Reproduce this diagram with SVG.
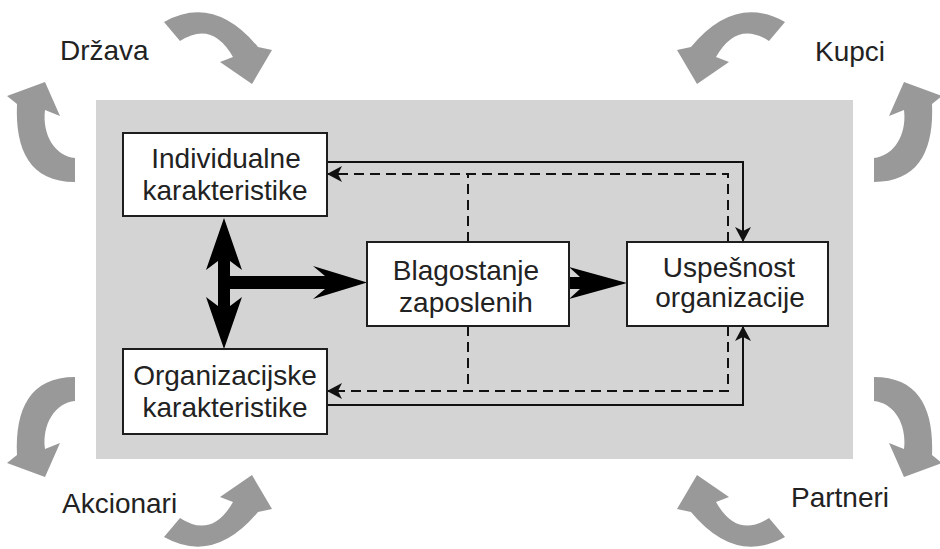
<svg xmlns="http://www.w3.org/2000/svg" width="940" height="549" viewBox="0 0 940 549">
<defs>
<style>
.bg{fill:#d4d4d4}
.box{fill:#ffffff;stroke:#1e1e1e;stroke-width:2}
.t{font-family:"Liberation Sans",Arial,sans-serif;font-size:28px;fill:#222222;text-anchor:middle}
.lbl{font-family:"Liberation Sans",Arial,sans-serif;font-size:28px;fill:#222222}
.curl{fill:#999999}
.solid{fill:none;stroke:#111111;stroke-width:2}
.dash{fill:none;stroke:#111111;stroke-width:2;stroke-dasharray:10 6}
.thick{fill:#000000}
</style>
<marker id="ah" markerUnits="userSpaceOnUse" markerWidth="15" markerHeight="16" viewBox="0 0 15 16" refX="15" refY="8" orient="auto">
<path d="M0,0 L15,8 L0,16 L4,8 Z" fill="#111111"/>
</marker>
<path id="curlTop" d="M164,22 Q214,-6 258,47 L272,50 L252,84 L220,62 L233,57 Q212,20 180,41 Z"/>
<path id="curlSide" d="M75,182 C30,182 15,150 17,104 L7,96 L45,82 L60,116 L45,110 C42,135 55,156 75,158 Z"/>
</defs>

<rect class="bg" x="96" y="100" width="757" height="359"/>

<g id="drzava">
<use href="#curlTop" class="curl"/>
<use href="#curlSide" class="curl"/>
<text class="lbl" x="60" y="60">Država</text>
</g>
<g id="kupci">
<g transform="translate(949,0) scale(-1,1)">
<use href="#curlTop" class="curl"/>
<use href="#curlSide" class="curl"/>
</g>
<text class="lbl" x="815" y="61">Kupci</text>
</g>
<g id="akcionari">
<g transform="translate(0,559) scale(1,-1)">
<use href="#curlTop" class="curl"/>
<use href="#curlSide" class="curl"/>
</g>
<text class="lbl" x="62" y="513">Akcionari</text>
</g>
<g id="partneri">
<g transform="translate(949,559) scale(-1,-1)">
<use href="#curlTop" class="curl"/>
<use href="#curlSide" class="curl"/>
</g>
<text class="lbl" x="791" y="507">Partneri</text>
</g>

<g id="connectors">
<path class="solid" d="M327,162 H743 V242" marker-end="url(#ah)"/>
<path class="dash" d="M728,242 V174 H327" marker-end="url(#ah)"/>
<path class="dash" d="M468,242 V174"/>
<path class="solid" d="M327,405 H743 V326" marker-end="url(#ah)"/>
<path class="dash" d="M728,326 V391 H327" marker-end="url(#ah)"/>
<path class="dash" d="M468,326 V391"/>
<path class="thick" d="M224,218 L242,270 L230,261 L230,306 L242,297 L224,349 L206,297 L218,306 L218,261 L206,270 Z"/>
<path class="thick" d="M224,276 L325,276 L313,266 L367,282.5 L313,299 L325,289 L224,289 Z"/>
<path class="thick" d="M569,267 L627,283 L569,299 L580,289 L569,289 L569,277 L580,277 Z"/>
</g>

<g id="individualne">
<rect class="box" x="123" y="133" width="204" height="83"/>
<text class="t" x="226" y="168">Individualne</text>
<text class="t" x="225" y="200">karakteristike</text>
</g>
<g id="organizacijske">
<rect class="box" x="123" y="349" width="204" height="85"/>
<text class="t" x="225" y="385">Organizacijske</text>
<text class="t" x="225" y="417">karakteristike</text>
</g>
<g id="blagostanje">
<rect class="box" x="367" y="242" width="202" height="84"/>
<text class="t" x="466" y="280">Blagostanje</text>
<text class="t" x="466" y="312">zaposlenih</text>
</g>
<g id="uspesnost">
<rect class="box" x="627" y="242" width="201" height="84"/>
<text class="t" x="729" y="277">Uspešnost</text>
<text class="t" x="730" y="307">organizacije</text>
</g>
</svg>
